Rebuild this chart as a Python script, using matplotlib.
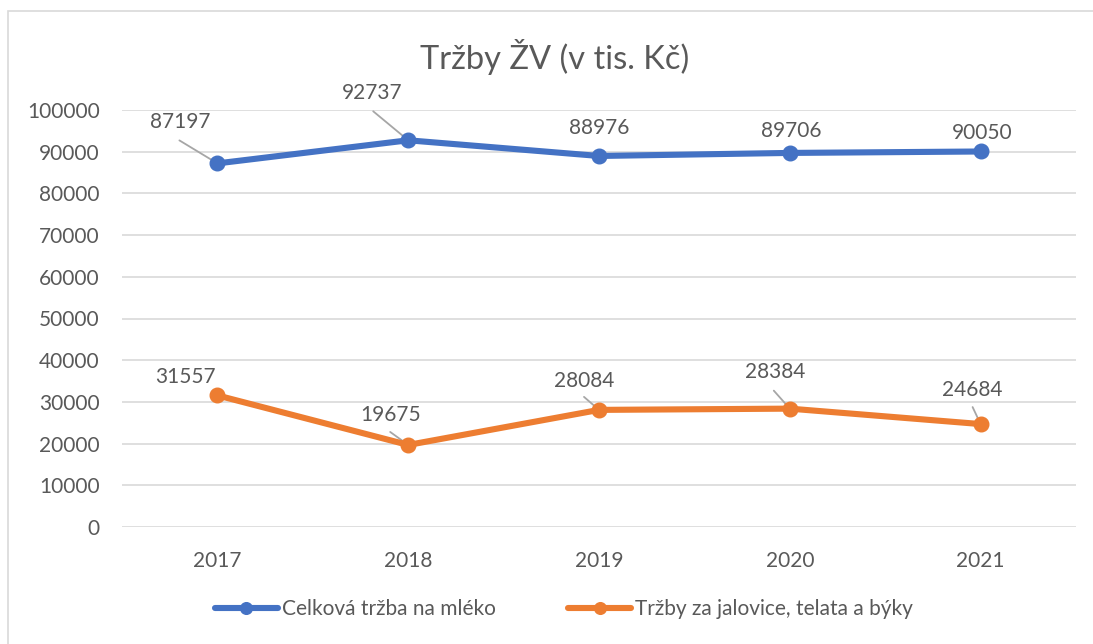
import matplotlib
matplotlib.use("Agg")
import matplotlib.pyplot as plt
from matplotlib.patches import Rectangle

years = ["2017", "2018", "2019", "2020", "2021"]
milk = [87197, 92737, 88976, 89706, 90050]
cattle = [31557, 19675, 28084, 28384, 24684]
series_names = ["Celková tržba na mléko", "Tržby za jalovice, telata a býky"]
title = "Tržby ŽV (v tis. Kč)"
yticks = list(range(0, 100001, 10000))

# label text offsets in pixels (dx, dy) and leader-line start offsets (None = no leader)
milk_offsets = [(-37, 41), (-36, 47), (0, 28), (1, 22), (2, 18)]
milk_leaders = [(-38, 23), (-35, 29), None, None, None]
cattle_offsets = [(-32, 18), (-18, 30), (-15, 29), (-15, 37), (-8, 34)]
cattle_leaders = [None, (-18, 13), (-15, 13), (-16, 18), (-8, 17)]

plt.rcParams['font.family'] = ['Lato', 'DejaVu Sans']
TXT = '#595959'
BLUE = '#4472C4'
ORANGE = '#ED7D31'
FS = 15

fig = plt.figure(figsize=(10.93, 6.44), dpi=100)
fig.patches.append(Rectangle((8/1093, -0.1), 1.2, 1 - 11/644 + 0.1, transform=fig.transFigure,
                             fill=False, edgecolor='#D9D9D9', linewidth=1.2))

ax = fig.add_axes([122/1093, 1 - 527/644, (1076 - 122)/1093, (527 - 110)/644])
x = list(range(len(years)))
ax.plot(x, milk, color=BLUE, lw=4.4, marker='o', ms=10.5, label=series_names[0], zorder=3,
        solid_capstyle='round')
ax.plot(x, cattle, color=ORANGE, lw=4.4, marker='o', ms=10.5, label=series_names[1], zorder=3,
        solid_capstyle='round')

ax.set_xlim(-0.5, len(years) - 0.5)
ax.set_ylim(0, 100000)
ax.set_yticks(yticks)
ax.set_yticklabels([str(v) for v in yticks])
ax.set_xticks(x)
ax.set_xticklabels(years)
ax.grid(axis='y', color='#D9D9D9', lw=1.2)
ax.set_axisbelow(True)
for s in ax.spines.values():
    s.set_visible(False)
ax.tick_params(axis='both', length=0, colors=TXT, labelsize=FS)
ax.tick_params(axis='y', pad=16)
ax.tick_params(axis='x', pad=17)

def label(vals, offs, leaders):
    for i, (v, (dx, dy), ld) in enumerate(zip(vals, offs, leaders)):
        ax.annotate(str(v), xy=(i, v), xytext=(dx, dy), textcoords='offset pixels',
                    ha='center', va='center', fontsize=FS, color=TXT, zorder=4)
        if ld is not None:
            ax.annotate('', xy=(i, v), xytext=ld, textcoords='offset pixels',
                        arrowprops=dict(arrowstyle='-', color='#A6A6A6', lw=1.3,
                                        shrinkA=0, shrinkB=0), zorder=2)

label(milk, milk_offsets, milk_leaders)
label(cattle, cattle_offsets, cattle_leaders)

fig.text(555/1093, 1 - 57/644, title, ha='center', va='center', fontsize=23.5, color=TXT)

leg = fig.legend(loc='center', bbox_to_anchor=(564/1093, 1 - 609/644), ncol=2, frameon=False,
                 fontsize=FS, handlelength=3.0, columnspacing=3.5, handletextpad=0.2,
                 labelcolor=TXT, markerscale=0.8)

fig.savefig('out.png', dpi=100)
